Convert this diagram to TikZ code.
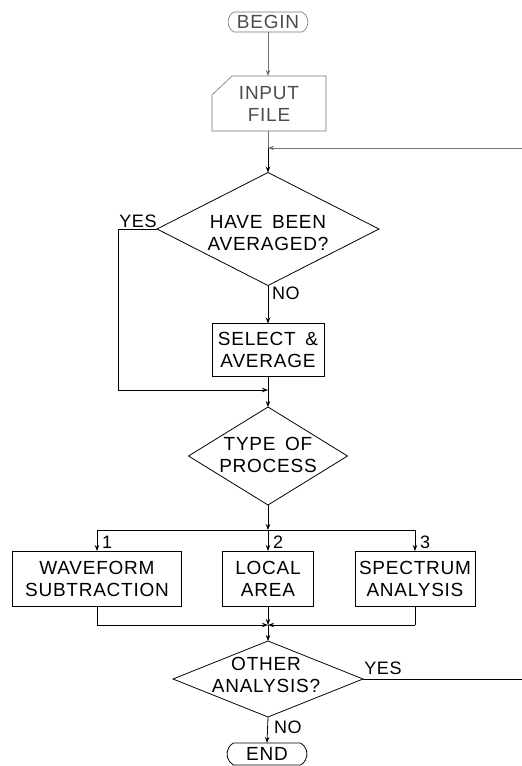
\documentclass[tikz,border=0pt]{standalone}
\usepackage{fontspec}
\setmainfont{Liberation Sans}[LetterSpace=4,WordSpace=1.6]
\usetikzlibrary{arrows.meta,shapes.geometric,shapes.misc,calc}
\begin{document}
\begin{tikzpicture}[x=1pt,y=-1pt,
  line width=0.8pt,
  every node/.style={font=\fontsize{19}{22}\selectfont, inner sep=0pt, outer sep=0pt},
  arr/.style={-{Stealth[length=6pt,width=4.5pt]}},
  faint/.style={draw=black!55, line width=0.6pt},
  faintarr/.style={faint, -{Stealth[length=6pt,width=4.5pt]}},
  box/.style={draw, rectangle, align=center},
  term/.style={rounded rectangle, rounded rectangle arc length=120, align=center},
  dia/.style={draw, diamond},
  lbl/.style={anchor=west, font=\fontsize{18}{20}\selectfont}
]
\useasboundingbox (0,0) rectangle (522,766);

% nodes
\node[term, faint, text=black!70, minimum width=80pt, minimum height=20pt] (begin) at (268,22) {BEGIN};
\node[minimum width=114pt, minimum height=55pt, align=center, text=black!70] (input) at (269,103.5) {INPUT\\FILE};
\draw[faint] ($(input.north west)+(0,19)$) -- ($(input.north west)+(20,0)$) -- (input.north east) -- (input.south east) -- (input.south west) -- cycle;

\coordinate (loopin) at (268,148);
\coordinate (loopedge) at (522,148);

\node[dia, minimum width=222pt, minimum height=113pt] (d1) at (268,229) {};
\node[align=center] (d1t) at (268,233) {HAVE BEEN\\AVERAGED?};

\node[box, minimum width=112pt, minimum height=53pt] (sel) at (268,350) {SELECT \&\\AVERAGE};
\coordinate (join) at (268,390);
\coordinate (ytop) at (118,229);
\coordinate (ybot) at (118,390);

\node[dia, minimum width=159pt, minimum height=98pt] (d2) at (268,456) {};
\node[align=center] (d2t) at (268,455) {TYPE OF\\PROCESS};

\coordinate (dist) at (268,530);
\coordinate (distl) at (97,530);
\coordinate (distr) at (415,530);

\node[box, minimum width=169pt, minimum height=55pt] (wave) at (97,578.5) {WAVEFORM\\SUBTRACTION};
\node[box, minimum width=91pt, minimum height=55pt] (local) at (268,578.5) {LOCAL\\AREA};
\node[box, minimum width=120pt, minimum height=55pt] (spec) at (415,578.5) {SPECTRUM\\ANALYSIS};

\coordinate (merge) at (268,625);
\coordinate (mergel) at (97,625);
\coordinate (merger) at (415,625);

\node[dia, minimum width=190pt, minimum height=76pt] (d3) at (268,679) {};
\node[align=center] (d3t) at (266,675) {OTHER\\ANALYSIS?};
\coordinate (yesedge) at (522,679);

\node[term, draw, minimum width=80pt, minimum height=22pt] (end) at (267,754) {END};

% labels
\node[anchor=center, font=\fontsize{18}{20}\selectfont] (yes1) at (138,221) {YES};
\node[lbl] (no1) at (272,293) {NO};
\node[lbl] (n1) at (102,542) {1};
\node[lbl] (n2) at (273,542) {2};
\node[lbl] (n3) at (420,542) {3};
\node[anchor=center, font=\fontsize{18}{20}\selectfont] (yes2) at (383,668) {YES};
\node[lbl] (no2) at (274,727) {NO};

% connectors
\draw[faintarr] (begin.south) -- (input.north -| begin.south);
\draw[faint] (input.south -| d1.north) -- (loopin);
\draw[arr] (loopin) -- (d1.north);
\draw[faintarr] (loopedge) -- (loopin);

\draw[arr] (d1.south) -- (sel.north);
\draw (d1.west) -- (ytop) -- (ybot);
\draw[arr] (ybot) -- (join);
\draw[arr] (sel.south) -- (d2.north);

\draw[arr] (d2.south) -- (dist);
\draw (distl) -- (distr);
\draw[arr] (distl) -- (wave.north);
\draw[arr] (dist) -- (local.north);
\draw[arr] (distr) -- (spec.north);

\draw (wave.south) -- (mergel);
\draw[arr] (mergel) -- (merge);
\draw (spec.south) -- (merger);
\draw[arr] (merger) -- (merge);
\draw[arr] (local.south) -- (merge);
\draw[arr] (merge) -- (d3.north);

\draw (d3.east) -- (yesedge);
\draw[arr] (d3.south) -- (end.north);
\end{tikzpicture}
\end{document}
